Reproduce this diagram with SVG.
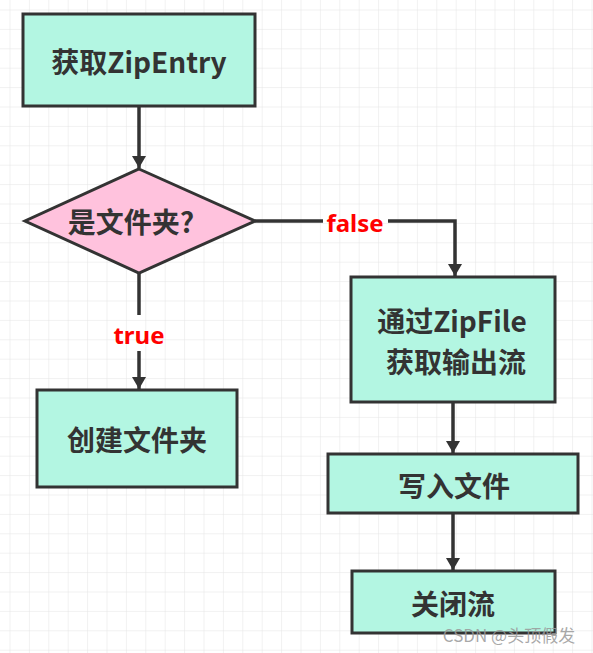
<svg xmlns="http://www.w3.org/2000/svg" width="593" height="653" viewBox="0 0 593 653">
<defs>
<pattern id="grid" x="9.5" y="9.5" width="19.4" height="19.4" patternUnits="userSpaceOnUse">
<path d="M0 0H19.4M0 0V19.4" fill="none" stroke="#e4e4e4" stroke-width="1"/>
</pattern>
<marker id="ah" viewBox="0 0 12 16" refX="12" refY="8" markerWidth="12" markerHeight="16" markerUnits="userSpaceOnUse" orient="auto">
<path d="M0 1L12 8L0 15Z" fill="#333"/>
</marker>
</defs>
<style>
.box{fill:#b3f6e2;stroke:#333;stroke-width:3}
.dia{fill:#ffc2dd;stroke:#333;stroke-width:3}
.t{font-family:"Noto Sans CJK SC","Noto Sans",sans-serif;font-weight:bold;font-size:28px;fill:#333;text-anchor:middle;dominant-baseline:central}
.lbl{font-family:"Noto Sans","Noto Sans CJK SC",sans-serif;font-weight:bold;font-size:24px;fill:#f00;text-anchor:middle;dominant-baseline:central}
.c{fill:none;stroke:#333;stroke-width:3.5}
</style>
<rect width="593" height="653" fill="#fff"/>
<rect width="593" height="653" fill="url(#grid)"/>
<g id="connectors">
<path class="c" d="M139 106V168" marker-end="url(#ah)"/>
<path class="c" d="M139 273V315"/>
<path class="c" d="M139 351V389" marker-end="url(#ah)"/>
<path class="c" d="M255 221H323"/>
<path class="c" d="M388 221H455V276" marker-end="url(#ah)"/>
<path class="c" d="M453 402V453" marker-end="url(#ah)"/>
<path class="c" d="M453 513V570" marker-end="url(#ah)"/>
<text class="lbl" x="139" y="334">true</text>
<text class="lbl" x="355" y="222">false</text>
</g>
<g id="n1"><rect class="box" x="23" y="14" width="232" height="92"/><text class="t" x="139" y="61">获取ZipEntry</text></g>
<g id="n2"><path class="dia" d="M139 169L255 221L139 273L25 221Z"/><text class="t" x="131" y="221">是文件夹?</text></g>
<g id="n3"><rect class="box" x="37" y="390" width="200" height="97"/><text class="t" x="137" y="439">创建文件夹</text></g>
<g id="n4"><rect class="box" x="351" y="277" width="204" height="125"/><text class="t" x="452" y="320">通过ZipFile</text><text class="t" x="456" y="361">获取输出流</text></g>
<g id="n5"><rect class="box" x="328" y="454" width="250" height="59"/><text class="t" x="454" y="485">写入文件</text></g>
<g id="n6"><rect class="box" x="352" y="571" width="203" height="62"/><text class="t" x="453" y="603">关闭流</text></g>
<text x="509" y="634" font-family="Noto Sans CJK SC, sans-serif" font-size="17" fill="#999" fill-opacity="0.85" text-anchor="middle" dominant-baseline="central">CSDN @头顶假发</text>
</svg>
